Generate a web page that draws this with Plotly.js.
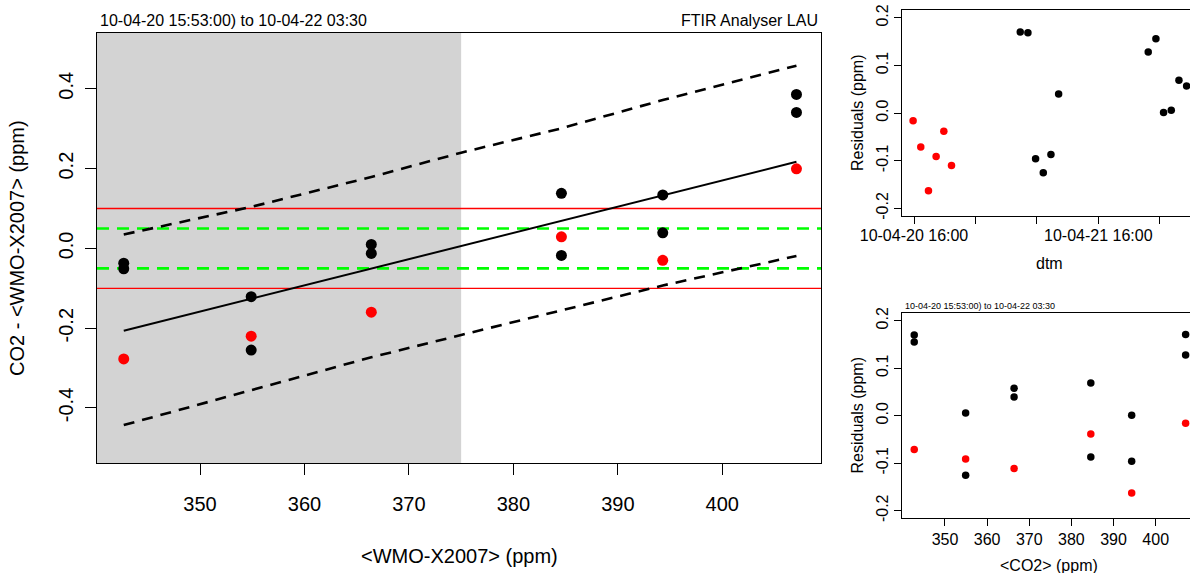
<!DOCTYPE html>
<html>
<head>
<meta charset="utf-8">
<script src="https://cdn.plot.ly/plotly-3.0.1.min.js"></script>
<style>html,body{margin:0;padding:0;background:#fff;}#chart{width:1190px;height:573px;}</style>
</head>
<body>
<div id="chart"></div>
<script>
// ---- data ----
const co2Levels   = [342.7, 354.9, 366.4, 384.6, 394.3, 407.1];
const diffBlackA  = [-0.037, -0.121, 0.010, 0.138, 0.134, 0.386];
const diffBlackB  = [-0.051, -0.255, -0.0125, -0.0175, 0.039, 0.341];
const diffRed     = [-0.277, -0.220, -0.160, 0.029, -0.030, 0.1995];
const fitX        = [342.7, 407.1];
const fitY        = [-0.2065, 0.217];
const bandX       = [342.7, 354.9, 366.4, 375.0, 384.6, 394.3, 407.1];
const bandUpper   = [0.035, 0.104, 0.179, 0.240, 0.301, 0.372, 0.458];
const bandLower   = [-0.443, -0.355, -0.273, -0.217, -0.155, -0.093, -0.019];
const redLimits   = [0.1, -0.1];
const greenLimits = [0.05, -0.05];
const shadeEnd    = 375;

const resBlackA = [0.170, 0.0057, 0.0577, 0.0688, 0.001, 0.171];
const resBlackB = [0.155, -0.1255, 0.0394, -0.087, -0.096, 0.128];
const resRed    = [-0.071, -0.091, -0.111, -0.0385, -0.163, -0.016];

const timesRed = ["2010-04-20 15:53","2010-04-20 16:53","2010-04-20 17:53","2010-04-20 18:53","2010-04-20 19:53","2010-04-20 20:53"];
const resTimeRed = [-0.016, -0.071, -0.163, -0.091, -0.038, -0.110];
const timesBlack = ["2010-04-21 05:50","2010-04-21 06:50","2010-04-21 07:50","2010-04-21 08:50","2010-04-21 09:50","2010-04-21 10:50",
                    "2010-04-21 22:30","2010-04-21 23:30","2010-04-22 00:30","2010-04-22 01:30","2010-04-22 02:30","2010-04-22 03:30"];
const resTimeBlack = [0.170, 0.1685, -0.096, -0.125, -0.087, 0.040, 0.128, 0.156, 0.0014, 0.006, 0.069, 0.057];

const mainXTicks = [350, 360, 370, 380, 390, 400];
const mainYTicks = [-0.4, -0.2, 0.0, 0.2, 0.4];
const mainYTickText = ["-0.4", "-0.2", "0.0", "0.2", "0.4"];
const resYTicks = [-0.2, -0.1, 0.0, 0.1, 0.2];
const resYTickText = ["-0.2", "-0.1", "0.0", "0.1", "0.2"];
const timeTicks = ["2010-04-20 16:00","2010-04-21 00:00","2010-04-21 08:00","2010-04-21 16:00","2010-04-22 00:00"];
const timeTickText = ["10-04-20 16:00", "", "", "10-04-21 16:00", ""];

const titleLeft = "10-04-20 15:53:00) to 10-04-22 03:30";
const titleRight = "FTIR Analyser LAU";

// ---- layout geometry ----
const W = 1190, H = 573;
const mainXRange = [340.14, 409.45];
const mainYRange = [-0.538, 0.540];
const trXRange = ["2010-04-20 14:28:36", "2010-04-22 03:56:24"];
const trYRange = [-0.216, 0.2164];
const brXRange = [339.87, 408.14];
const brYRange = [-0.216, 0.2168];

const FONT = "Liberation Sans, Arial, Helvetica, sans-serif";
const px = v => v / W;
const py = v => (H - v) / H;

const traces = [];
// limit lines
redLimits.forEach(v => traces.push({x: mainXRange, y: [v, v], mode: 'lines', line: {color: '#FF0000', width: 1.3}, xaxis: 'x', yaxis: 'y'}));
greenLimits.forEach(v => traces.push({x: mainXRange, y: [v, v], mode: 'lines', line: {color: '#00FF00', width: 2.6, dash: '12px,8px'}, xaxis: 'x', yaxis: 'y'}));
// band and fit
traces.push({x: bandX, y: bandUpper, mode: 'lines', line: {color: '#000', width: 2.6, dash: '11px,8px'}, xaxis: 'x', yaxis: 'y'});
traces.push({x: bandX, y: bandLower, mode: 'lines', line: {color: '#000', width: 2.6, dash: '11px,8px'}, xaxis: 'x', yaxis: 'y'});
traces.push({x: fitX, y: fitY, mode: 'lines', line: {color: '#000', width: 2}, xaxis: 'x', yaxis: 'y'});
// points main
[diffBlackA, diffBlackB].forEach(arr => traces.push({x: co2Levels, y: arr, mode: 'markers', marker: {color: '#000', size: 11}, xaxis: 'x', yaxis: 'y'}));
traces.push({x: co2Levels, y: diffRed, mode: 'markers', marker: {color: '#FF0000', size: 11}, xaxis: 'x', yaxis: 'y'});
// top-right residuals vs time
traces.push({x: timesRed, y: resTimeRed, mode: 'markers', marker: {color: '#FF0000', size: 7.5}, xaxis: 'x2', yaxis: 'y2'});
traces.push({x: timesBlack, y: resTimeBlack, mode: 'markers', marker: {color: '#000', size: 7.5}, xaxis: 'x2', yaxis: 'y2'});
// bottom-right residuals vs co2
[resBlackA, resBlackB].forEach(arr => traces.push({x: co2Levels, y: arr, mode: 'markers', marker: {color: '#000', size: 7.5}, xaxis: 'x3', yaxis: 'y3'}));
traces.push({x: co2Levels, y: resRed, mode: 'markers', marker: {color: '#FF0000', size: 7.5}, xaxis: 'x3', yaxis: 'y3'});

const axBase = {showgrid: false, zeroline: false, showline: true, linecolor: '#000', linewidth: 1,
  ticks: 'outside', tickcolor: '#000', tickwidth: 1, fixedrange: true};

const layout = {
  width: W, height: H, autosize: false,
  margin: {l: 0, r: 0, t: 0, b: 0, pad: 0},
  paper_bgcolor: '#fff', plot_bgcolor: 'rgba(0,0,0,0)',
  showlegend: false, hovermode: false,
  font: {family: FONT, color: '#000'},
  xaxis: Object.assign({}, axBase, {domain: [px(97), px(821)], range: mainXRange, anchor: 'y', mirror: true,
    tickvals: mainXTicks, ticklen: 11, tickfont: {size: 20, family: FONT}, ticklabelstandoff: 12}),
  yaxis: Object.assign({}, axBase, {domain: [py(463), py(33)], range: mainYRange, anchor: 'x', mirror: true,
    tickvals: mainYTicks, ticktext: mainYTickText, tickangle: -90, ticklen: 11, tickfont: {size: 20, family: FONT}, ticklabelstandoff: 4}),
  xaxis2: Object.assign({}, axBase, {domain: [px(902.3), 1], range: trXRange, type: 'date', anchor: 'y2', mirror: true,
    tickvals: timeTicks, ticktext: timeTickText, ticklen: 7, tickfont: {size: 16, family: FONT}, ticklabelstandoff: -2}),
  yaxis2: Object.assign({}, axBase, {domain: [py(216), py(10)], range: trYRange, anchor: 'x2', mirror: false,
    tickvals: resYTicks, ticktext: resYTickText, tickangle: -90, ticklen: 7, tickfont: {size: 16, family: FONT}, ticklabelstandoff: 0}),
  xaxis3: Object.assign({}, axBase, {domain: [px(902.3), 1], range: brXRange, anchor: 'y3', mirror: true,
    tickvals: mainXTicks, ticklen: 7, tickfont: {size: 16, family: FONT}, ticklabelstandoff: -1}),
  yaxis3: Object.assign({}, axBase, {domain: [py(518.3), py(312.7)], range: brYRange, anchor: 'x3', mirror: false,
    tickvals: resYTicks, ticktext: resYTickText, tickangle: -90, ticklen: 7, tickfont: {size: 16, family: FONT}, ticklabelstandoff: 0}),
  shapes: [
    {type: 'rect', xref: 'x', yref: 'y domain', x0: mainXRange[0], x1: shadeEnd, y0: 0, y1: 1,
     fillcolor: '#D3D3D3', line: {width: 0}, layer: 'below'}
  ],
  annotations: [
    {text: titleLeft, xref: 'paper', yref: 'paper', x: px(98), y: py(21), xanchor: 'left', yanchor: 'middle', showarrow: false, font: {size: 16}},
    {text: titleRight, xref: 'paper', yref: 'paper', x: px(820), y: py(21), xanchor: 'right', yanchor: 'middle', showarrow: false, font: {size: 16}},
    {text: "&lt;WMO-X2007&gt; (ppm)", xref: 'paper', yref: 'paper', x: px(459), y: py(555.5), xanchor: 'center', yanchor: 'middle', showarrow: false, font: {size: 20}},
    {text: "CO2 - &lt;WMO-X2007&gt; (ppm)", xref: 'paper', yref: 'paper', x: px(17), y: py(248), xanchor: 'center', yanchor: 'middle', textangle: -90, showarrow: false, font: {size: 20}},
    {text: "Residuals (ppm)", xref: 'paper', yref: 'paper', x: px(857), y: py(113), xanchor: 'center', yanchor: 'middle', textangle: -90, showarrow: false, font: {size: 16}},
    {text: "dtm", xref: 'paper', yref: 'paper', x: px(1049), y: py(263.5), xanchor: 'center', yanchor: 'middle', showarrow: false, font: {size: 16}},
    {text: titleLeft, xref: 'paper', yref: 'paper', x: px(902.5), y: py(305.5), xanchor: 'left', yanchor: 'middle', showarrow: false, font: {size: 9}},
    {text: "Residuals (ppm)", xref: 'paper', yref: 'paper', x: px(857), y: py(415.5), xanchor: 'center', yanchor: 'middle', textangle: -90, showarrow: false, font: {size: 16}},
    {text: "&lt;CO2&gt; (ppm)", xref: 'paper', yref: 'paper', x: px(1049), y: py(565), xanchor: 'center', yanchor: 'middle', showarrow: false, font: {size: 16}}
  ]
};

Plotly.newPlot('chart', traces, layout, {staticPlot: true, displayModeBar: false});
</script>
</body>
</html>
